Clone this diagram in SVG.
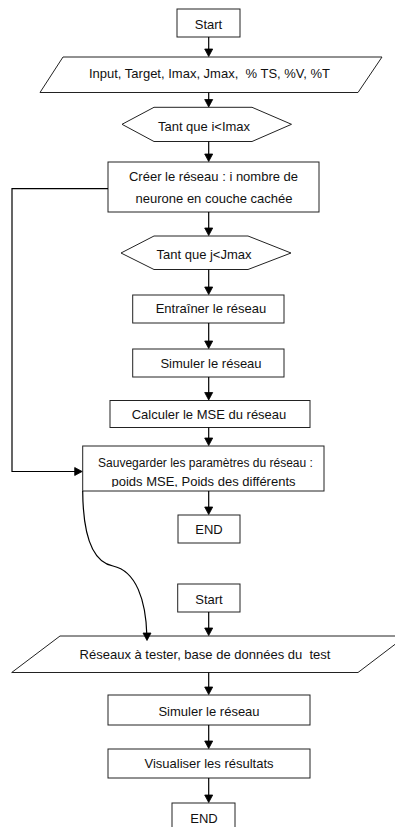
<svg xmlns="http://www.w3.org/2000/svg" width="395" height="827" viewBox="0 0 395 827">
  <style>
    .shape { fill: #ffffff; stroke: #222222; stroke-width: 1; }
    .line { fill: none; stroke: #000000; stroke-width: 1.2; }
    .head { fill: #000000; stroke: #000000; stroke-width: 0.8; stroke-linejoin: miter; }
    .label { font-family: "Liberation Sans", Arial, sans-serif; font-size: 13px; fill: #111111; text-anchor: middle; }
    .small { font-size: 12px; }
  </style>
  <defs>
    <clipPath id="saveClip">
      <rect x="83" y="446" width="241" height="41"/>
    </clipPath>
  </defs>

  <rect width="395" height="827" fill="#ffffff"/>

  <!-- training phase -->
  <g id="start1">
    <rect class="shape" x="177" y="9" width="63" height="28"/>
    <text class="label" x="208.5" y="29">Start</text>
  </g>
  <g id="inputs">
    <polygon class="shape" points="63,57 382,57 358,92.5 40,92.5"/>
    <text class="label" x="209.5" y="77.5" xml:space="preserve">Input, Target, Imax, Jmax,  % TS, %V, %T</text>
  </g>
  <g id="loopI">
    <polygon class="shape" points="122,124.3 154,107.3 252,107.3 291.5,124.3 252,141.5 154,141.5"/>
    <text class="label" x="204" y="130.5">Tant que i&lt;Imax</text>
  </g>
  <g id="createNet">
    <rect class="shape" x="108" y="162" width="211" height="50"/>
    <text class="label" x="213.5" y="181">Créer le réseau : i nombre de</text>
    <text class="label" x="214" y="203">neurone en couche cachée</text>
  </g>
  <g id="loopJ">
    <polygon class="shape" points="121,253 154,236 248,236 291,253 248,269.5 154,269.5"/>
    <text class="label" x="204" y="258.5">Tant que j&lt;Jmax</text>
  </g>
  <g id="train">
    <rect class="shape" x="132.7" y="295" width="151.3" height="28"/>
    <text class="label" x="211" y="313">Entraîner le réseau</text>
  </g>
  <g id="simulate1">
    <rect class="shape" x="132.7" y="349" width="151.3" height="28"/>
    <text class="label" x="211" y="368">Simuler le réseau</text>
  </g>
  <g id="mse">
    <rect class="shape" x="110" y="400.5" width="200" height="27"/>
    <text class="label" x="209" y="418.5">Calculer le MSE du réseau</text>
  </g>
  <g id="save">
    <rect class="shape" x="82.7" y="446" width="241.3" height="45"/>
    <g clip-path="url(#saveClip)">
      <text class="label small" x="205.5" y="467">Sauvegarder les paramètres du réseau :</text>
      <text class="label" x="203.5" y="485.5">poids MSE, Poids des différents</text>
    </g>
  </g>
  <g id="end1">
    <rect class="shape" x="178" y="515" width="62" height="28"/>
    <text class="label" x="209" y="533.5">END</text>
  </g>

  <!-- test phase -->
  <g id="start2">
    <rect class="shape" x="177.7" y="584" width="62.3" height="28"/>
    <text class="label" x="209" y="604">Start</text>
  </g>
  <g id="testData">
    <polygon class="shape" points="60,636 406,636 358,672.5 11.7,672.5"/>
    <text class="label" x="205" y="659" xml:space="preserve">Réseaux à tester, base de données du  test</text>
  </g>
  <g id="simulate2">
    <rect class="shape" x="108" y="695" width="202" height="30"/>
    <text class="label" x="209" y="716">Simuler le réseau</text>
  </g>
  <g id="results">
    <rect class="shape" x="108" y="749" width="202" height="29"/>
    <text class="label" x="209" y="768">Visualiser les résultats</text>
  </g>
  <g id="end2">
    <rect class="shape" x="172" y="803" width="63" height="30"/>
    <text class="label" x="204" y="823">END</text>
  </g>

  <!-- connectors, drawn last so arrowheads sit on top of the shapes -->
  <g id="connectors">
    <path class="line" d="M208.7,37 V52"/>
    <polygon class="head" points="204.7,49 212.7,49 208.7,56.5"/>
    <path class="line" d="M208.7,92.5 V102"/>
    <polygon class="head" points="204.7,99.5 212.7,99.5 208.7,107"/>
    <path class="line" d="M208.7,141.5 V157"/>
    <polygon class="head" points="204.7,154 212.7,154 208.7,161.5"/>
    <path class="line" d="M208.7,212 V231"/>
    <polygon class="head" points="204.7,228 212.7,228 208.7,235.5"/>
    <path class="line" d="M208.7,269.5 V290"/>
    <polygon class="head" points="204.7,287 212.7,287 208.7,294.5"/>
    <path class="line" d="M208.7,323 V344"/>
    <polygon class="head" points="204.7,341 212.7,341 208.7,348.5"/>
    <path class="line" d="M208.7,377 V395"/>
    <polygon class="head" points="204.7,392.5 212.7,392.5 208.7,400"/>
    <path class="line" d="M208.7,427.5 V441"/>
    <polygon class="head" points="204.7,438 212.7,438 208.7,445.5"/>
    <path class="line" d="M208.7,491 V510"/>
    <polygon class="head" points="204.7,507 212.7,507 208.7,514.5"/>
    <!-- loop back from the network creation step to the save step -->
    <path class="line" d="M108,188.7 H12 V471.5 H78"/>
    <polygon class="head" points="74.7,467.5 74.7,475.5 82.2,471.5"/>
    <!-- saved networks feed the test phase -->
    <path class="line" d="M82.7,491 C83,535 92,562 113,566 C136,571 146,600 146.9,636"/>
    <polygon class="head" points="143,633 151,633 147,640.5"/>
    <path class="line" d="M208.7,612 V631"/>
    <polygon class="head" points="204.7,628 212.7,628 208.7,635.5"/>
    <path class="line" d="M208.7,672.5 V690"/>
    <polygon class="head" points="204.7,687 212.7,687 208.7,694.5"/>
    <path class="line" d="M208.7,725 V744"/>
    <polygon class="head" points="204.7,741 212.7,741 208.7,748.5"/>
    <path class="line" d="M208.7,778 V798"/>
    <polygon class="head" points="204.7,795 212.7,795 208.7,802.5"/>
  </g>
</svg>
